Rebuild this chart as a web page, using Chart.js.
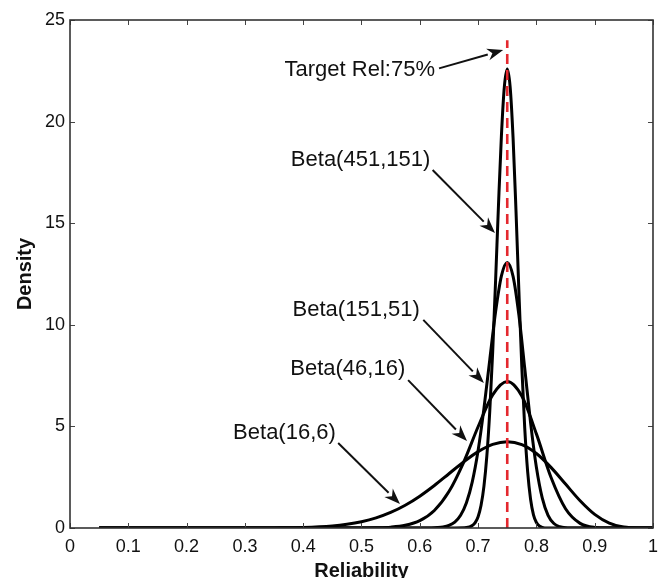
<!DOCTYPE html>
<html>
<head>
<meta charset="utf-8">
<script src="https://cdn.jsdelivr.net/npm/chart.js@4/dist/chart.umd.min.js"></script>
<style>
  html, body { margin: 0; padding: 0; background: #fff; overflow: hidden; }
</style>
</head>
<body>
<canvas id="chart" width="666" height="578"></canvas>
<script>
// Beta densities of reliability (x = reliability, y = density)
const beta16_6_x = [0.05, 0.30, 0.35, 0.40, 0.45, 0.475, 0.50, 0.525, 0.55, 0.575, 0.60, 0.625, 0.65, 0.675, 0.70,
                    0.725, 0.75, 0.775, 0.80, 0.825, 0.85, 0.875, 0.90, 0.925, 0.95, 0.975, 1.0];
const beta16_6_y = [0, 0.001, 0.006, 0.027, 0.103, 0.184, 0.311, 0.500, 0.766, 1.121, 1.568, 2.094, 2.671, 3.248, 3.757,
                    4.115, 4.249, 4.103, 3.666, 2.983, 2.160, 1.341, 0.670, 0.240, 0.047, 0.002, 0];

const beta46_16_x = [0.05, 0.45, 0.50, 0.525, 0.55, 0.575, 0.60, 0.625, 0.65, 0.675, 0.70, 0.725, 0.75, 0.775,
                     0.80, 0.825, 0.85, 0.875, 0.90, 0.925, 0.95, 1.0];
const beta46_16_y = [0, 0, 0.003, 0.012, 0.042, 0.133, 0.362, 0.864, 1.792, 3.222, 4.982, 6.553, 7.212, 6.494,
                     4.632, 2.496, 0.947, 0.227, 0.028, 0.001, 0, 0];

const beta151_51_x = [0.05, 0.60, 0.62, 0.63, 0.64, 0.65, 0.66, 0.67, 0.68, 0.69, 0.70, 0.71, 0.72, 0.73, 0.74, 0.75,
                      0.76, 0.77, 0.78, 0.79, 0.80, 0.81, 0.82, 0.83, 0.84, 0.85, 0.87, 1.0];
const beta151_51_y = [0, 0, 0.006, 0.019, 0.050, 0.126, 0.292, 0.627, 1.241, 2.268, 3.810, 5.872, 8.277, 10.635, 12.405, 13.07,
                      12.381, 10.474, 7.860, 5.190, 2.986, 1.481, 0.625, 0.221, 0.064, 0.015, 0, 0];

const beta451_151_x = [0.05, 0.66, 0.68, 0.69, 0.695, 0.70, 0.705, 0.71, 0.715, 0.72, 0.725, 0.73, 0.735, 0.74, 0.745, 0.75,
                       0.755, 0.76, 0.765, 0.77, 0.775, 0.78, 0.785, 0.79, 0.795, 0.80, 0.805, 0.81, 0.82, 0.84, 1.0];
const beta451_151_y = [0, 0, 0.019, 0.118, 0.265, 0.559, 1.106, 2.048, 3.547, 5.737, 8.658, 12.17, 15.91, 19.31, 21.71, 22.59,
                       21.70, 19.20, 15.61, 11.63, 7.917, 4.913, 2.770, 1.414, 0.651, 0.269, 0.100, 0.033, 0.003, 0, 0];

// target reliability marker
const targetX = [0.75, 0.75];
const targetY = [0, 24];

const xTickValues = [0, 0.1, 0.2, 0.3, 0.4, 0.5, 0.6, 0.7, 0.8, 0.9, 1];
const xTickLabels = ['0', '0.1', '0.2', '0.3', '0.4', '0.5', '0.6', '0.7', '0.8', '0.9', '1'];
const yTickValues = [0, 5, 10, 15, 20, 25];
const yTickLabels = ['0', '5', '10', '15', '20', '25'];

// text labels with arrows, placed in data units
const notes = [
  { text: 'Target Rel:75%', at: [0.626, 22.52], from: [0.633, 22.62], to: [0.743, 23.52] },
  { text: 'Beta(451,151)', at: [0.618, 18.10], from: [0.622, 17.62], to: [0.729, 14.52] },
  { text: 'Beta(151,51)',  at: [0.600, 10.73], from: [0.606, 10.24], to: [0.710, 7.14] },
  { text: 'Beta(46,16)',   at: [0.575, 7.82],  from: [0.580, 7.28],  to: [0.681, 4.28] },
  { text: 'Beta(16,6)',    at: [0.456, 4.68],  from: [0.460, 4.18],  to: [0.566, 1.18] }
];

const toPoints = (xs, ys) => xs.map((x, i) => ({ x: x, y: ys[i] }));

function curve(label, xs, ys) {
  return {
    label: label,
    data: toPoints(xs, ys),
    borderColor: '#000',
    borderWidth: 3,
    pointRadius: 0,
    fill: false,
    cubicInterpolationMode: 'monotone'
  };
}

const FONT = '"Liberation Sans", Arial, sans-serif';

// box frame, inward ticks and arrow labels
const matlabAxes = {
  id: 'matlabAxes',
  afterDatasetsDraw(chart) {
    const { ctx, chartArea: a, scales: { x, y } } = chart;
    ctx.save();
    ctx.strokeStyle = '#444';
    ctx.lineWidth = 1;
    const tl = 5;
    ctx.beginPath();
    xTickValues.forEach(v => {
      const px = Math.round(x.getPixelForValue(v)) + 0.5;
      ctx.moveTo(px, a.bottom); ctx.lineTo(px, a.bottom - tl);
      ctx.moveTo(px, a.top); ctx.lineTo(px, a.top + tl);
    });
    yTickValues.forEach(v => {
      const py = Math.round(y.getPixelForValue(v)) + 0.5;
      ctx.moveTo(a.left, py); ctx.lineTo(a.left + tl, py);
      ctx.moveTo(a.right, py); ctx.lineTo(a.right - tl, py);
    });
    ctx.stroke();

    ctx.lineWidth = 1.6;
    ctx.strokeStyle = '#333';
    ctx.strokeRect(a.left, a.top, a.right - a.left, a.bottom - a.top);

    ctx.fillStyle = '#111';
    ctx.strokeStyle = '#111';
    ctx.font = '22px ' + FONT;
    ctx.textAlign = 'right';
    ctx.textBaseline = 'middle';
    notes.forEach(n => {
      ctx.fillText(n.text, x.getPixelForValue(n.at[0]), y.getPixelForValue(n.at[1]));
      const x0 = x.getPixelForValue(n.from[0]), y0 = y.getPixelForValue(n.from[1]);
      const x1 = x.getPixelForValue(n.to[0]), y1 = y.getPixelForValue(n.to[1]);
      const ang = Math.atan2(y1 - y0, x1 - x0);
      const hl = 16, hw = 6;
      const bx = x1 - hl * Math.cos(ang), by = y1 - hl * Math.sin(ang);
      ctx.lineWidth = 2;
      ctx.beginPath();
      ctx.moveTo(x0, y0);
      ctx.lineTo(bx, by);
      ctx.stroke();
      ctx.beginPath();
      ctx.moveTo(x1, y1);
      ctx.lineTo(bx + hw * Math.sin(ang), by - hw * Math.cos(ang));
      ctx.lineTo(x1 - hl * 0.7 * Math.cos(ang), y1 - hl * 0.7 * Math.sin(ang));
      ctx.lineTo(bx - hw * Math.sin(ang), by + hw * Math.cos(ang));
      ctx.closePath();
      ctx.fill();
    });
    ctx.restore();
  }
};

new Chart(document.getElementById('chart'), {
  type: 'line',
  data: {
    datasets: [
      {
        label: 'Target Rel',
        data: toPoints(targetX, targetY),
        borderColor: '#e4282e',
        borderWidth: 2.6,
        borderDash: [10, 6],
        pointRadius: 0,
        fill: false
      },
      curve('Beta(451,151)', beta451_151_x, beta451_151_y),
      curve('Beta(151,51)', beta151_51_x, beta151_51_y),
      curve('Beta(46,16)', beta46_16_x, beta46_16_y),
      curve('Beta(16,6)', beta16_6_x, beta16_6_y)
    ]
  },
  options: {
    responsive: false,
    animation: false,
    layout: { padding: { left: 0, top: 20, right: 13, bottom: 0 } },
    plugins: { legend: { display: false }, tooltip: { enabled: false } },
    scales: {
      x: {
        type: 'linear',
        min: 0,
        max: 1,
        afterBuildTicks: s => { s.ticks = xTickValues.map(v => ({ value: v })); },
        afterFit: s => { s.height = 50; },
        grid: { display: false, drawTicks: false },
        border: { display: false },
        ticks: {
          padding: 8,
          maxRotation: 0,
          color: '#111',
          font: { family: FONT, size: 18 },
          callback: (v, i) => xTickLabels[i]
        },
        title: {
          display: true,
          text: 'Reliability',
          color: '#111',
          padding: 0,
          font: { family: FONT, size: 20, weight: 'bold', lineHeight: 0.7 }
        }
      },
      y: {
        type: 'linear',
        min: 0,
        max: 25,
        afterBuildTicks: s => { s.ticks = yTickValues.map(v => ({ value: v })); },
        afterFit: s => { s.width = 70; },
        grid: { display: false, drawTicks: false },
        border: { display: false },
        ticks: {
          padding: 5,
          color: '#111',
          font: { family: FONT, size: 18 },
          callback: (v, i) => yTickLabels[i]
        },
        title: {
          display: true,
          text: 'Density',
          color: '#111',
          padding: { top: 13, bottom: 0 },
          font: { family: FONT, size: 20, weight: 'bold', lineHeight: 1.2 }
        }
      }
    }
  },
  plugins: [matlabAxes]
});
</script>
</body>
</html>
